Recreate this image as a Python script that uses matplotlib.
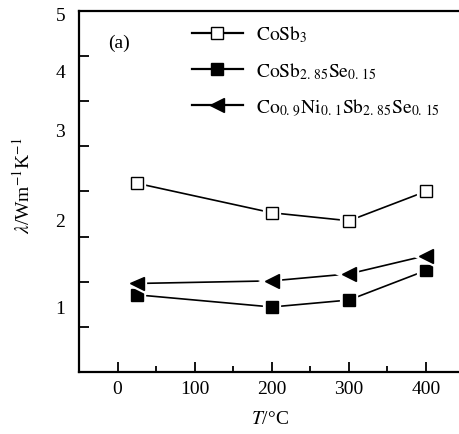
import numpy as np
import matplotlib
matplotlib.use('Agg')
import matplotlib.pyplot as plt
from matplotlib.lines import Line2D
import matplotlib.patheffects as pe

plt.rcParams['font.family'] = ['Liberation Serif', 'DejaVu Serif']
plt.rcParams['mathtext.fontset'] = 'stix'

# temperature (C) and thermal conductivity values
T = [25, 200, 300, 400]
cosb3 = [2.40, 2.07, 1.98, 2.31]
cosb_se = [1.13, 0.99, 1.07, 1.41]
coni_se = [1.26, 1.29, 1.37, 1.58]

labels = [r'$\mathrm{CoSb_3}$',
          r'$\mathrm{CoSb_{2.\,85}Se_{0.\,15}}$',
          r'$\mathrm{Co_{0.\,9}Ni_{0.\,1}Sb_{2.\,85}Se_{0.\,15}}$']

# the printed y axis is not linear: label values vs. their place on the axis
lam_knots = [0.24, 1, 2, 3, 4, 5, 5.05]
pos_knots = [0.0, 1.46, 3.39, 5.37, 6.67, 7.94, 8.0]
ytick_vals = [1, 2, 3, 4, 5]


def fwd(v):
    return np.interp(v, lam_knots, pos_knots)


def inv(p):
    return np.interp(p, pos_knots, lam_knots)


fig = plt.figure(figsize=(4.6, 4.35), dpi=100)
ax = fig.add_axes([0.1717, 0.1425, 0.8283, 0.83])
ax.set_yscale('function', functions=(fwd, inv))

halo = [pe.Stroke(linewidth=4.5, foreground='white'), pe.Normal()]
styles = [dict(marker='s', mfc='white', mec='black', ms=8.5, mew=1.0),
          dict(marker='s', mfc='black', mec='black', ms=8.5, mew=1.0),
          dict(marker='<', mfc='black', mec='black', ms=10, mew=1.0)]

handles = []
for ys, st, lab in zip([cosb3, cosb_se, coni_se], styles, labels):
    ax.plot(T, ys, color='black', lw=1.2, zorder=2)
    ax.plot(T, ys, linestyle='none', zorder=3, path_effects=halo, **st)
    handles.append(Line2D([], [], color='black', lw=1.6, label=lab, **st))

ax.set_xlim(-50, 444)
ax.set_ylim(0.24, 5.05)
ax.set_xticks([0, 100, 200, 300, 400])
ax.set_xticks([50, 150, 250, 350], minor=True)
ax.set_yticks(ytick_vals)
ax.set_yticks(inv(np.arange(1, 8)), minor=True)
ax.set_yticklabels([str(v) for v in ytick_vals])

ax.tick_params(axis='x', which='major', direction='in', length=7, width=1.3,
               labelsize=14, pad=6)
ax.tick_params(axis='x', which='minor', direction='in', length=4, width=1.3)
ax.tick_params(axis='y', which='major', length=0, labelsize=14, pad=10)
ax.tick_params(axis='y', which='minor', direction='in', length=7, width=1.3)

for s in ['left', 'bottom', 'top']:
    ax.spines[s].set_linewidth(1.6)
ax.spines['right'].set_visible(False)

ax.set_xlabel(r'$T$/°C', fontsize=14, labelpad=9)
ax.set_ylabel(r'$\lambda$/Wm$^{-1}$K$^{-1}$', fontsize=14)
ax.yaxis.set_label_coords(-0.12, 0.52)

ax.text(0.076, 0.914, '(a)', transform=ax.transAxes, fontsize=14,
        va='center', ha='left')

ax.legend(handles=handles, loc='upper left', bbox_to_anchor=(0.297, 0.965),
          frameon=False, fontsize=14, handlelength=2.6, handletextpad=0.7,
          labelspacing=0.8, borderpad=0, borderaxespad=0)

fig.savefig('out.png', dpi=100)
